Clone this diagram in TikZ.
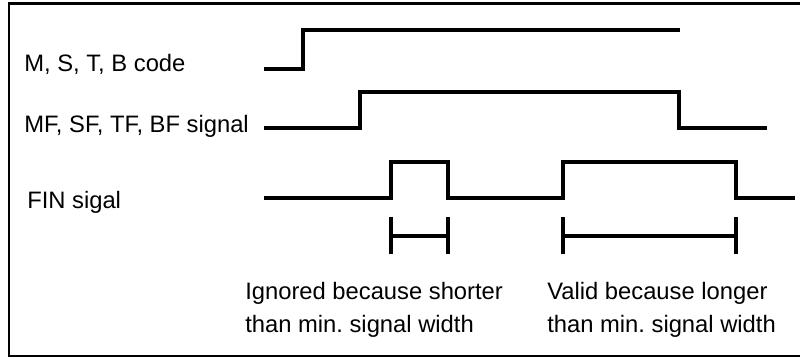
\documentclass[tikz,border=0pt]{standalone}
\usepackage{fontspec}
\setmainfont{Liberation Sans}

\newcommand*{\xleft}{264}
\newcommand*{\ycodehi}{30}
\newcommand*{\ycodelo}{69}
\newcommand*{\yflaghi}{92}
\newcommand*{\yflaglo}{128}
\newcommand*{\yfinhi}{162}
\newcommand*{\yfinlo}{198}

\begin{document}
\begin{tikzpicture}
[
	x=0.025cm,y=-0.025cm,
	signal/.style={line width=2.2pt,line join=miter},
	bar/.style={line width=2.3pt},
	lbl/.style={anchor=base west,inner sep=0pt,align=left,
		font=\fontsize{16.9}{21.3}\selectfont\frenchspacing}
]

	% frame
	\useasboundingbox (0,0) rectangle (800,358);
	\clip (0,0) rectangle (800,358);
	\draw[line width=1.6pt] (9,3.5) rectangle (820,356);

	% labels
	\node[lbl] (code) at (24,71) {M, S, T, B code};
	\node[lbl] (flag) at (24,132) {MF, SF, TF, BF signal};
	\node[lbl] (fin) at (27,208) {FIN sigal};

	% signals
	\draw[signal] (\xleft,\ycodelo) -- (303,\ycodelo) -- (303,\ycodehi) -- (680,\ycodehi);
	\draw[signal] (\xleft,\yflaglo) -- (360,\yflaglo) -- (360,\yflaghi)
		-- (679,\yflaghi) -- (679,\yflaglo) -- (767,\yflaglo);
	\draw[signal] (\xleft,\yfinlo) -- (391,\yfinlo) -- (391,\yfinhi) -- (448,\yfinhi)
		-- (448,\yfinlo) -- (563,\yfinlo) -- (563,\yfinhi) -- (736,\yfinhi)
		-- (736,\yfinlo) -- (795,\yfinlo);

	% widths
	\foreach \a/\b in {391/448,563/736} {
		\draw[bar] (\a,217) -- (\a,254);
		\draw[bar] (\b,217) -- (\b,254);
		\draw[bar] (\a,236) -- (\b,236);
	}

	\node[lbl] (short) at (245,332) {Ignored because shorter\\[1.5pt]than min. signal width};
	\node[lbl] (long) at (547,332) {Valid because longer\\[1.5pt]than min. signal width};

\end{tikzpicture}
\end{document}
